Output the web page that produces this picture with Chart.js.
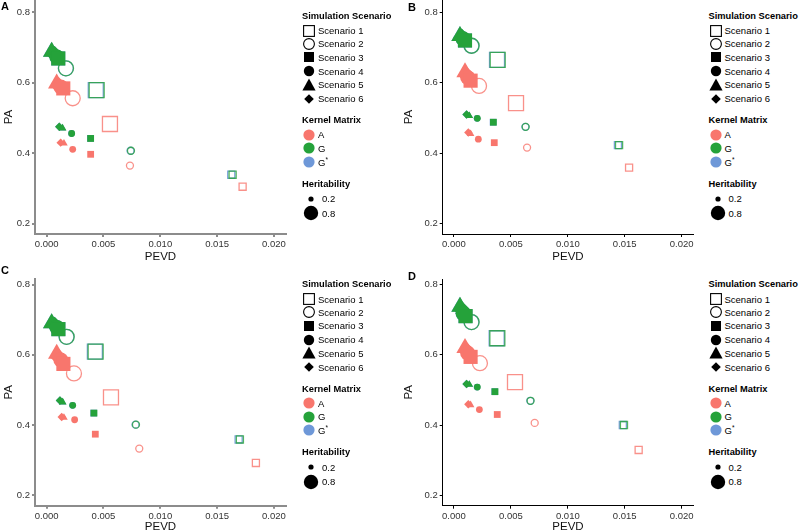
<!DOCTYPE html>
<html><head><meta charset="utf-8">
<script src="https://cdn.jsdelivr.net/npm/chart.js@4.4.1/dist/chart.umd.min.js"></script>
<style>
html,body{margin:0;padding:0;background:#fff;}
#wrap{position:relative;width:800px;height:532px;overflow:hidden;font-family:"Liberation Sans",Arial,sans-serif;background:#fff;}
.pc{position:absolute;}
.lab{position:absolute;font-weight:bold;font-size:11px;line-height:12px;color:#000;}
.lg{position:absolute;width:95px;height:230px;color:#000;}
.row{position:absolute;left:0;white-space:nowrap;height:14px;display:flex;align-items:center;font-size:9.5px;}
.ttl{position:absolute;left:0;white-space:nowrap;font-weight:bold;font-size:9.3px;line-height:12px;}
.row svg{flex:none;}
</style>
</head><body>
<div id="wrap">
  <canvas id="cA" class="pc"></canvas>
  <canvas id="cB" class="pc"></canvas>
  <canvas id="cC" class="pc"></canvas>
  <canvas id="cD" class="pc"></canvas>
  <div class="lab" style="left:1px;top:0px">A</div>
  <div class="lab" style="left:408px;top:1px">B</div>
  <div class="lab" style="left:1px;top:264px">C</div>
  <div class="lab" style="left:408px;top:270px">D</div>
</div>
<script>
// ---------- categories / labels ----------
const scenarios = ['Scenario 1','Scenario 2','Scenario 3','Scenario 4','Scenario 5','Scenario 6'];
const kernels = ['A','G','G*'];
const heritabilities = ['0.2','0.8'];
const xTicks = [0, 0.005, 0.010, 0.015, 0.020];
const yTicks = [0.2, 0.4, 0.6, 0.8];

// ---------- Panel A (values by scenario 1..6) ----------
const pA_A_h02_pevd = [0.01725, 0.00733, 0.00387, 0.00229, 0.00152, 0.00123];
const pA_A_h02_pa   = [0.305, 0.365, 0.397, 0.411, 0.428, 0.430];
const pA_A_h08_pevd = [0.00557, 0.00229, 0.00146, 0.00125, 0.00088, 0.00105];
const pA_A_h08_pa   = [0.483, 0.556, 0.584, 0.588, 0.598, 0.592];
const pA_G_h02_pevd = [0.01637, 0.00742, 0.00387, 0.00220, 0.00140, 0.00111];
const pA_G_h02_pa   = [0.339, 0.407, 0.442, 0.456, 0.471, 0.475];
const pA_G_h08_pevd = [0.00440, 0.00170, 0.00102, 0.00090, 0.00044, 0.00070];
const pA_G_h08_pa   = [0.579, 0.641, 0.669, 0.673, 0.688, 0.680];
const pA_Gs_h02_pevd = [0.01625, 0.00738, 0.00385, 0.00218, 0.00138, 0.00110];
const pA_Gs_h02_pa   = [0.339, 0.407, 0.442, 0.456, 0.471, 0.475];
const pA_Gs_h08_pevd = [0.00432, 0.00168, 0.00101, 0.00089, 0.00043, 0.00069];
const pA_Gs_h08_pa   = [0.579, 0.641, 0.669, 0.673, 0.688, 0.680];

// ---------- Panel B ----------
const pB_A_h02_pevd = [0.01538, 0.00642, 0.00354, 0.00214, 0.00146, 0.00126];
const pB_A_h02_pa   = [0.359, 0.416, 0.430, 0.440, 0.455, 0.459];
const pB_A_h08_pevd = [0.00545, 0.00220, 0.00146, 0.00120, 0.00097, 0.00110];
const pB_A_h08_pa   = [0.542, 0.591, 0.606, 0.615, 0.630, 0.622];
const pB_G_h02_pevd = [0.01450, 0.00630, 0.00346, 0.00205, 0.00135, 0.00111];
const pB_G_h02_pa   = [0.423, 0.475, 0.488, 0.499, 0.506, 0.510];
const pB_G_h08_pevd = [0.00384, 0.00155, 0.00097, 0.00080, 0.00053, 0.00070];
const pB_G_h08_pa   = [0.665, 0.705, 0.720, 0.725, 0.733, 0.729];
const pB_Gs_h02_pevd = [0.01440, 0.00627, 0.00344, 0.00203, 0.00134, 0.00110];
const pB_Gs_h02_pa   = [0.423, 0.475, 0.488, 0.499, 0.506, 0.510];
const pB_Gs_h08_pevd = [0.00378, 0.00153, 0.00096, 0.00079, 0.00052, 0.00069];
const pB_Gs_h08_pa   = [0.665, 0.705, 0.720, 0.725, 0.733, 0.729];

// ---------- Panel C ----------
const pC_A_h02_pevd = [0.01842, 0.00815, 0.00428, 0.00246, 0.00152, 0.00132];
const pC_A_h02_pa   = [0.292, 0.333, 0.374, 0.415, 0.421, 0.423];
const pC_A_h08_pevd = [0.00566, 0.00240, 0.00147, 0.00125, 0.00088, 0.00105];
const pC_A_h08_pa   = [0.479, 0.547, 0.574, 0.585, 0.603, 0.593];
const pC_G_h02_pevd = [0.01701, 0.00786, 0.00416, 0.00229, 0.00141, 0.00117];
const pC_G_h02_pa   = [0.359, 0.401, 0.434, 0.456, 0.465, 0.470];
const pC_G_h08_pevd = [0.00431, 0.00176, 0.00103, 0.00090, 0.00044, 0.00070];
const pC_G_h08_pa   = [0.609, 0.651, 0.673, 0.678, 0.690, 0.684];
const pC_Gs_h02_pevd = [0.01690, 0.00782, 0.00414, 0.00227, 0.00140, 0.00116];
const pC_Gs_h02_pa   = [0.359, 0.401, 0.434, 0.456, 0.465, 0.470];
const pC_Gs_h08_pevd = [0.00424, 0.00174, 0.00102, 0.00089, 0.00043, 0.00069];
const pC_Gs_h08_pa   = [0.609, 0.651, 0.673, 0.678, 0.690, 0.684];

// ---------- Panel D ----------
const pD_A_h02_pevd = [0.01622, 0.00709, 0.00380, 0.00223, 0.00146, 0.00126];
const pD_A_h02_pa   = [0.329, 0.406, 0.430, 0.444, 0.457, 0.459];
const pD_A_h08_pevd = [0.00536, 0.00228, 0.00146, 0.00120, 0.00097, 0.00110];
const pD_A_h08_pa   = [0.522, 0.576, 0.594, 0.605, 0.619, 0.612];
const pD_G_h02_pevd = [0.01493, 0.00673, 0.00360, 0.00205, 0.00135, 0.00111];
const pD_G_h02_pa   = [0.400, 0.469, 0.495, 0.508, 0.515, 0.517];
const pD_G_h08_pevd = [0.00381, 0.00155, 0.00102, 0.00080, 0.00053, 0.00070];
const pD_G_h08_pa   = [0.647, 0.693, 0.710, 0.718, 0.737, 0.728];
const pD_Gs_h02_pevd = [0.01483, 0.00670, 0.00358, 0.00203, 0.00134, 0.00110];
const pD_Gs_h02_pa   = [0.400, 0.469, 0.495, 0.508, 0.515, 0.517];
const pD_Gs_h08_pevd = [0.00375, 0.00153, 0.00101, 0.00079, 0.00052, 0.00069];
const pD_Gs_h08_pa   = [0.647, 0.693, 0.710, 0.718, 0.737, 0.728];

// ---------- styling ----------
const FONT = '"Liberation Sans", Arial, sans-serif';
const kernelColors = {'A':'#F8766D','G':'#25A23A','G*':'#6E98D8'};
const kernelStroke = {'A':'rgba(248,118,109,0.8)','G':'rgba(37,162,58,0.8)','G*':'rgba(110,152,216,0.9)'};
const scenStyle = [
  {ps:'rect',     fill:false, r:[5.0,10.6]},
  {ps:'circle',   fill:false, r:[3.5,7.5]},
  {ps:'rect',     fill:true,  r:[4.8,10.0]},
  {ps:'circle',   fill:true,  r:[3.4,7.5]},
  {ps:'triangle', fill:true,  r:[4.4,10.0]},
  {ps:'rectRot',  fill:true,  r:[4.2,8.5]}
];

const panels = [
  {id:'cA', left:0, top:0, w:300, h:266, yW:35, xH:32, pad:{left:0,top:0,right:14,bottom:0},
   xmin:-0.00103, xmax:0.02107, ymin:0.1708, ymax:0.8349, axisColor:'#8c8c8c', axisW:2,
   data:{'A':[[pA_A_h02_pevd,pA_A_h02_pa],[pA_A_h08_pevd,pA_A_h08_pa]],
         'G':[[pA_G_h02_pevd,pA_G_h02_pa],[pA_G_h08_pevd,pA_G_h08_pa]],
         'G*':[[pA_Gs_h02_pevd,pA_Gs_h02_pa],[pA_Gs_h08_pevd,pA_Gs_h08_pa]]},
   legend:{x:302, y:0}},
  {id:'cB', left:400, top:0, w:300, h:266, yW:42.7, xH:32, pad:{left:0,top:0,right:6.7,bottom:0},
   xmin:-0.00099, xmax:0.02102, ymin:0.1708, ymax:0.8349, axisColor:'#000', axisW:1,
   data:{'A':[[pB_A_h02_pevd,pB_A_h02_pa],[pB_A_h08_pevd,pB_A_h08_pa]],
         'G':[[pB_G_h02_pevd,pB_G_h02_pa],[pB_G_h08_pevd,pB_G_h08_pa]],
         'G*':[[pB_Gs_h02_pevd,pB_Gs_h02_pa],[pB_Gs_h08_pevd,pB_Gs_h08_pa]]},
   legend:{x:708.5, y:0}},
  {id:'cC', left:0, top:266, w:300, h:270, yW:35, xH:30.3, pad:{left:0,top:13,right:14,bottom:0},
   xmin:-0.00103, xmax:0.02107, ymin:0.1704, ymax:0.8157, axisColor:'#8c8c8c', axisW:2,
   data:{'A':[[pC_A_h02_pevd,pC_A_h02_pa],[pC_A_h08_pevd,pC_A_h08_pa]],
         'G':[[pC_G_h02_pevd,pC_G_h02_pa],[pC_G_h08_pevd,pC_G_h08_pa]],
         'G*':[[pC_Gs_h02_pevd,pC_Gs_h02_pa],[pC_Gs_h08_pevd,pC_Gs_h08_pa]]},
   legend:{x:302, y:268.5}},
  {id:'cD', left:400, top:266, w:300, h:270, yW:42.7, xH:30.3, pad:{left:0,top:13,right:6.7,bottom:0},
   xmin:-0.00099, xmax:0.02102, ymin:0.1704, ymax:0.8157, axisColor:'#000', axisW:1,
   data:{'A':[[pD_A_h02_pevd,pD_A_h02_pa],[pD_A_h08_pevd,pD_A_h08_pa]],
         'G':[[pD_G_h02_pevd,pD_G_h02_pa],[pD_G_h08_pevd,pD_G_h08_pa]],
         'G*':[[pD_Gs_h02_pevd,pD_Gs_h02_pa],[pD_Gs_h08_pevd,pD_Gs_h08_pa]]},
   legend:{x:708.5, y:268.5}}
];

function buildDatasets(p){
  const ds = [];
  const kOrder = ['G','A','G*'];          // earlier = drawn on top
  const sOrder = [2,3,4,5,0,1];           // filled shapes above open ones
  kOrder.forEach(k=>{
    sOrder.forEach(s=>{
      const st = scenStyle[s];
      const pts = heritabilities.map((h,hi)=>({x:p.data[k][hi][0][s], y:p.data[k][hi][1][s]}));
      ds.push({
        label: k+' '+scenarios[s],
        data: pts,
        pointStyle: st.ps,
        pointRadius: st.r,
        pointHoverRadius: st.r,
        backgroundColor: st.fill ? kernelColors[k] : 'rgba(0,0,0,0)',
        borderColor: st.fill ? kernelColors[k] : kernelStroke[k],
        borderWidth: st.fill ? 0 : 1.3,
        showLine:false,
        clip:false
      });
    });
  });
  return ds;
}

panels.forEach(p=>{
  const cv = document.getElementById(p.id);
  cv.style.left = p.left+'px'; cv.style.top = p.top+'px';
  cv.style.width = p.w+'px'; cv.style.height = p.h+'px';
  cv.width = p.w; cv.height = p.h;
  new Chart(cv, {
    type:'scatter',
    data:{datasets: buildDatasets(p)},
    options:{
      responsive:false, animation:false, events:[],
      devicePixelRatio:1,
      layout:{padding:p.pad, autoPadding:false},
      plugins:{legend:{display:false}, tooltip:{enabled:false}},
      scales:{
        x:{type:'linear', min:p.xmin, max:p.xmax,
           afterBuildTicks:s=>{s.ticks = xTicks.map(v=>({value:v}));},
           afterFit:s=>{s.height = p.xH; s.paddingLeft=0; s.paddingRight=0;},
           ticks:{callback:v=>Number(v).toFixed(3), color:'#333', font:{size:9.5,family:FONT}, padding:2, maxRotation:0, autoSkip:false},
           grid:{display:true, drawOnChartArea:false, drawTicks:true, tickLength:3, color:p.axisColor, lineWidth:p.axisW},
           border:{display:true, color:p.axisColor, width:p.axisW},
           title:{display:true, text:'PEVD', color:'#111', font:{size:11.5,family:FONT}, padding:{top:0,bottom:2}}
        },
        y:{type:'linear', min:p.ymin, max:p.ymax,
           afterBuildTicks:s=>{s.ticks = yTicks.map(v=>({value:v}));},
           afterFit:s=>{s.width = p.yW; s.paddingTop=0; s.paddingBottom=0;},
           ticks:{callback:v=>Number(v).toFixed(1), color:'#333', font:{size:9.5,family:FONT}, padding:2},
           grid:{display:true, drawOnChartArea:false, drawTicks:true, tickLength:3, color:p.axisColor, lineWidth:p.axisW},
           border:{display:true, color:p.axisColor, width:p.axisW},
           title:{display:true, text:'PA', color:'#111', font:{size:11.5,family:FONT}, padding:{top:2,bottom:0}}
        }
      }
    }
  });
});

// ---------- legends (HTML text + small SVG keys) ----------
const scenSvg = [
  '<rect x="1.6" y="1.6" width="10.8" height="10.8" fill="none" stroke="#000" stroke-width="1.1"/>',
  '<circle cx="7" cy="7" r="5.4" fill="none" stroke="#000" stroke-width="1.1"/>',
  '<rect x="2" y="2" width="10" height="10" fill="#000"/>',
  '<circle cx="7" cy="7" r="5.2" fill="#000"/>',
  '<polygon points="7,0.6 13.6,12.6 0.4,12.6" fill="#000"/>',
  '<polygon points="7,2.2 11.8,7 7,11.8 2.2,7" fill="#000"/>'
];
function svg(inner,w,h){return '<svg width="'+w+'" height="'+h+'" viewBox="0 0 '+w+' '+h+'">'+inner+'</svg>';}
const scenY = [30.7, 43.7, 57.3, 71.0, 84.7, 98.7];
const kernY = [134.7, 148.0, 161.5];
const herY = [198.7, 213.3];
const herR = [2.6, 7.2];
const wrap = document.getElementById('wrap');
panels.forEach(p=>{
  const lg = document.createElement('div');
  lg.className='lg'; lg.style.left=p.legend.x+'px'; lg.style.top=p.legend.y+'px';
  let h = '';
  h += '<div class="ttl" style="top:9.7px">Simulation Scenario</div>';
  scenarios.forEach((s,i)=>{
    h += '<div class="row" style="top:'+(scenY[i]-7)+'px">'+svg(scenSvg[i],14,14)+'<span style="margin-left:2px">'+s+'</span></div>';
  });
  h += '<div class="ttl" style="top:114px">Kernel Matrix</div>';
  kernels.forEach((k,i)=>{
    const lbl = k==='G*' ? 'G<sup style="font-size:6.5px;vertical-align:4px">*</sup>' : k;
    h += '<div class="row" style="top:'+(kernY[i]-7)+'px">'+svg('<circle cx="7" cy="7" r="5.6" fill="'+kernelColors[k]+'"/>',14,14)+'<span style="margin-left:2px">'+lbl+'</span></div>';
  });
  h += '<div class="ttl" style="top:177.7px">Heritability</div>';
  heritabilities.forEach((v,i)=>{
    h += '<div class="row" style="top:'+(herY[i]-8)+'px;height:16px">'+svg('<circle cx="9" cy="8" r="'+herR[i]+'" fill="#000"/>',18,16)+'<span style="margin-left:2px">'+v+'</span></div>';
  });
  lg.innerHTML = h;
  wrap.appendChild(lg);
});
</script>
</body></html>
